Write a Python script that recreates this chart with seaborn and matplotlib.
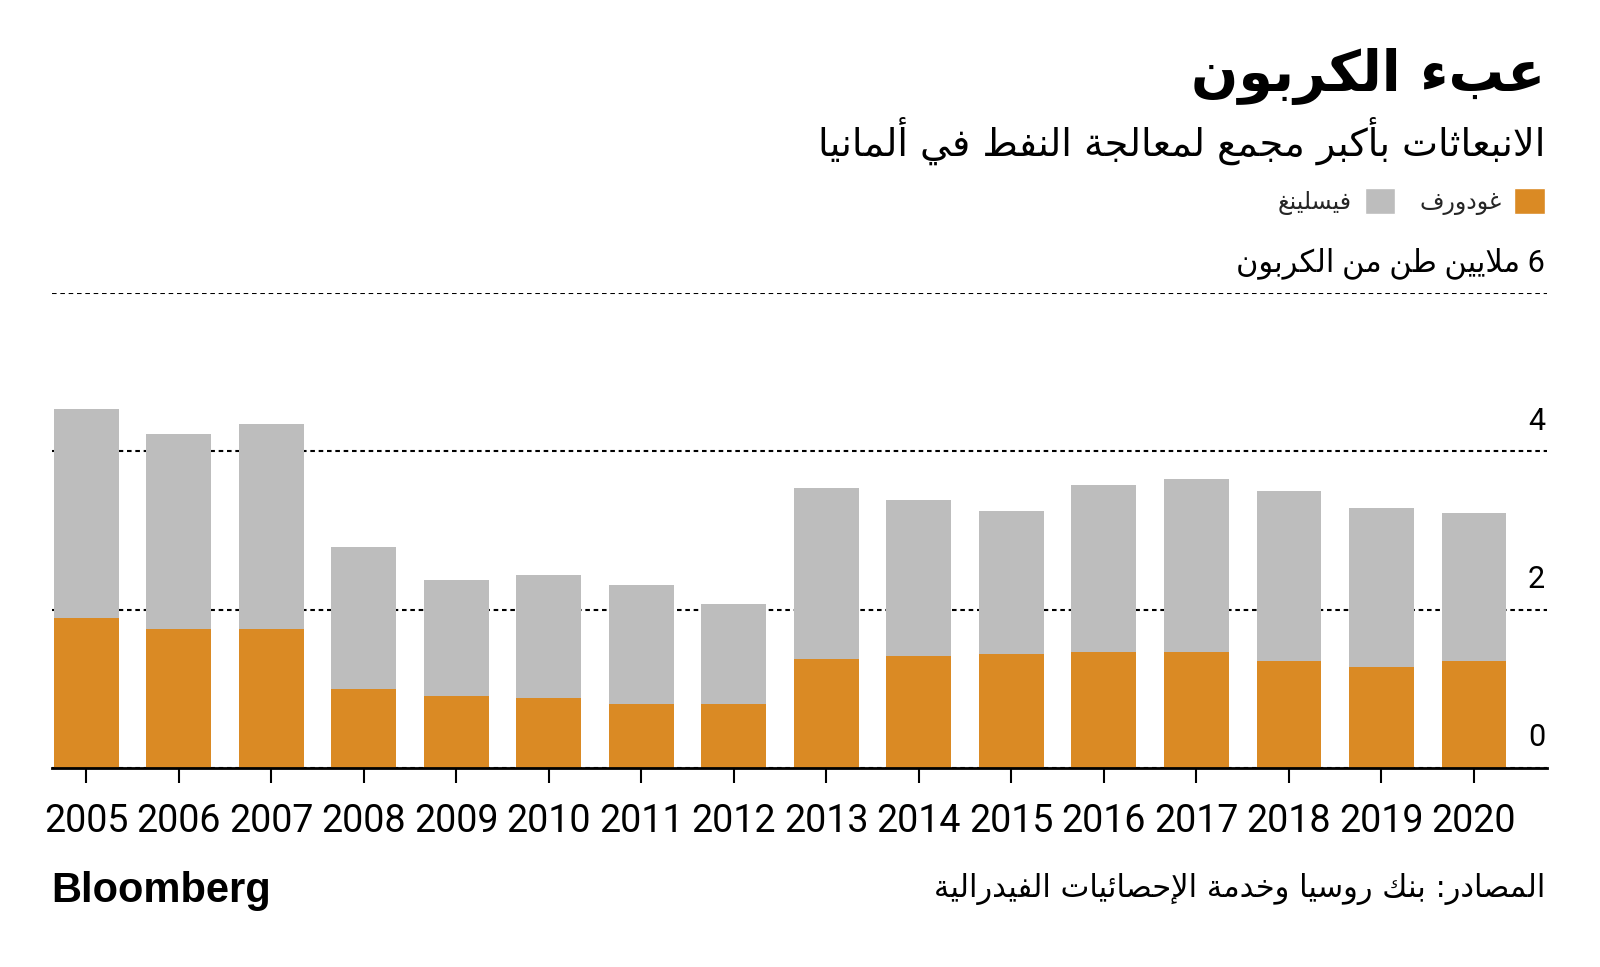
import matplotlib
matplotlib.use("Agg")
import matplotlib.pyplot as plt
import matplotlib.transforms as mtransforms
from matplotlib.patches import Patch
from matplotlib import font_manager
import seaborn as sns

# data (million tonnes of carbon)
years = [str(y) for y in range(2005, 2021)]
godorf = [1.90, 1.75, 1.76, 1.00, 0.91, 0.88, 0.81, 0.81,
          1.38, 1.41, 1.44, 1.46, 1.46, 1.35, 1.27, 1.35]
wesseling = [2.64, 2.47, 2.59, 1.79, 1.47, 1.56, 1.50, 1.26,
             2.16, 1.97, 1.81, 2.11, 2.19, 2.15, 2.01, 1.87]
y_ticks = [0, 2, 4, 6]
y_labels = ["0", "2", "4", "6 ملايين طن من الكربون"]

title = "عبء الكربون"
subtitle = "الانبعاثات بأكبر مجمع لمعالجة النفط في ألمانيا"
legend_names = ["غودورف", "فيسلينغ"]
source = "المصادر: بنك روسيا وخدمة الإحصائيات الفيدرالية"

ORANGE = "#DA8A24"
GRAY = "#BDBDBD"

# --- minimal Arabic shaping (matplotlib has no complex text layout) ---
RIGHT = {"آ": 0xFE81, "أ": 0xFE83, "ؤ": 0xFE85, "إ": 0xFE87, "ا": 0xFE8D,
         "ة": 0xFE93, "د": 0xFEA9, "ذ": 0xFEAB, "ر": 0xFEAD, "ز": 0xFEAF,
         "و": 0xFEED, "ى": 0xFEEF}
DUAL = {"ئ": 0xFE89, "ب": 0xFE8F, "ت": 0xFE95, "ث": 0xFE99, "ج": 0xFE9D,
        "ح": 0xFEA1, "خ": 0xFEA5, "س": 0xFEB1, "ش": 0xFEB5, "ص": 0xFEB9,
        "ض": 0xFEBD, "ط": 0xFEC1, "ظ": 0xFEC5, "ع": 0xFEC9, "غ": 0xFECD,
        "ف": 0xFED1, "ق": 0xFED5, "ك": 0xFED9, "ل": 0xFEDD, "م": 0xFEE1,
        "ن": 0xFEE5, "ه": 0xFEE9, "ي": 0xFEF1}
LAMALEF = {"آ": 0xFEF5, "أ": 0xFEF7, "إ": 0xFEF9, "ا": 0xFEFB}


def shape(s):
    res = []
    prev_link = False
    i = 0
    while i < len(s):
        c = s[i]
        nxt = s[i + 1] if i + 1 < len(s) else ""
        if c == "ل" and nxt in LAMALEF:
            res.append(chr(LAMALEF[nxt] + (1 if prev_link else 0)))
            prev_link = False
            i += 2
            continue
        if c in DUAL or c in RIGHT:
            to_next = c in DUAL and (nxt in DUAL or nxt in RIGHT)
            base = DUAL.get(c, RIGHT.get(c))
            if prev_link and to_next:
                f = 3
            elif prev_link:
                f = 1
            elif to_next:
                f = 2
            else:
                f = 0
            res.append(chr(base + f))
            prev_link = to_next
        else:
            res.append(c)
            prev_link = False
        i += 1
    return "".join(res)[::-1]


def first_font(*names):
    have = {f.name for f in font_manager.fontManager.ttflist}
    return [n for n in names if n in have] or ["DejaVu Sans"]


sns.set_theme(style="white")
plt.rcParams["font.family"] = ["DejaVu Sans"]
num_font = first_font("Liberation Sans Narrow", "Roboto", "Liberation Sans")[0]

W, H = 1600, 967
fig = plt.figure(figsize=(16, 9.67), dpi=100)
ax = fig.add_axes([52 / W, 1 - 768 / H, (1547 - 52) / W, (768 - 293) / H])

totals = [g + w for g, w in zip(godorf, wesseling)]
sns.barplot(x=years, y=totals, color=GRAY, width=0.70, saturation=1,
            errorbar=None, linewidth=0, ax=ax, zorder=3)
sns.barplot(x=years, y=godorf, color=ORANGE, width=0.70, saturation=1,
            errorbar=None, linewidth=0, ax=ax, zorder=3)

ax.set_xlim(-0.37, 15.79)
ax.set_ylim(0, 6)
ax.set_xlabel("")
ax.set_ylabel("")
ax.set_yticks(y_ticks)
ax.set_yticklabels([])
ax.tick_params(axis="y", length=0)
ax.yaxis.grid(True, color="black", linestyle=(0, (2.2, 1.8)), linewidth=1.5, zorder=0)
ax.xaxis.grid(False)
for side in ["top", "left", "right"]:
    ax.spines[side].set_visible(False)
ax.spines["bottom"].set_color("black")
ax.spines["bottom"].set_linewidth(2.0)
ax.spines["bottom"].set_zorder(4)
ax.tick_params(axis="x", bottom=True, length=11, width=1.5, color="black",
               pad=14, labelsize=27, labelcolor="black")
for t in ax.get_xticklabels():
    t.set_fontfamily(num_font)

# value labels sit just above their gridlines, right aligned
trans = mtransforms.blended_transform_factory(ax.transAxes, ax.transData)
trans = mtransforms.offset_copy(trans, fig=fig, x=-2, y=30, units="dots")
for v, lab in zip(y_ticks, y_labels):
    ax.text(1.0, v, shape(lab), transform=trans, ha="right", va="center",
            fontsize=22, color="black", family=[num_font, "DejaVu Sans"])

# titles
fig.text(1545 / W, 1 - 48 / H, shape(title), ha="right", va="top",
         fontsize=40, fontweight="bold", color="black")
fig.text(1545 / W, 1 - 117 / H, shape(subtitle), ha="right", va="top",
         fontsize=27.5, color="black")

# legend, right to left
handles = [Patch(facecolor=GRAY, label=shape(legend_names[1])),
           Patch(facecolor=ORANGE, label=shape(legend_names[0]))]
fig.legend(handles=handles, ncol=2, loc="upper right",
           bbox_to_anchor=(1545 / W, 1 - 188 / H), frameon=False,
           markerfirst=False, fontsize=17, handlelength=1.3, handleheight=1.3,
           handletextpad=0.55, columnspacing=1.0, borderpad=0, borderaxespad=0)

# footer
fig.text(51 / W, 1 - 891 / H, "Bloomberg", ha="left", va="center",
         fontsize=30, fontweight="bold", color="black",
         family=first_font("Liberation Sans", "Roboto"))
fig.text(1545 / W, 1 - 889 / H, shape(source), ha="right", va="center",
         fontsize=22, color="black")

fig.savefig("out.png", dpi=100, facecolor="white")
